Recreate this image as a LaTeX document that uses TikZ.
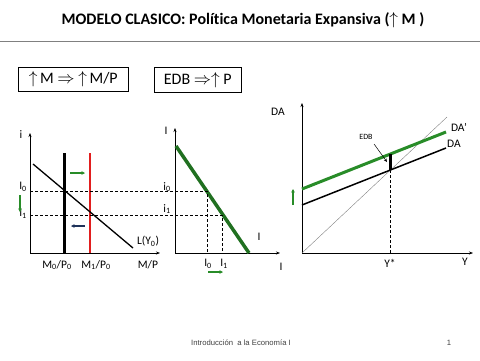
\documentclass[tikz,border=0pt]{standalone}
\usepackage{fontspec}
\setmainfont{Carlito}[Ligatures=NoCommon]
\newfontfamily\piefont{Liberation Sans}
\usetikzlibrary{arrows.meta}

\definecolor{verde}{RGB}{40,140,40}
\definecolor{rojo}{RGB}{225,30,30}
\definecolor{azul}{RGB}{30,50,90}

\begin{document}
\begin{tikzpicture}[x=1pt,y=-1pt,font=\fontsize{11.5}{13}\selectfont,
  eje/.style={-{Stealth[length=4pt,width=3pt]},line width=0.5pt},
  guia/.style={densely dashed,line width=0.4pt},
  flecha/.style={-{Stealth[length=3.5pt,width=3.5pt]},line width=1.2pt},
  caja/.style={draw,line width=0.6pt,anchor=north west,inner sep=0pt}]
\useasboundingbox (0,0) rectangle (480,360);

% titulo
\node (T) at (243,20) {\fontsize{16}{19}\selectfont\bfseries MODELO CLASICO: Política Monetaria Expansiva ($\uparrow$ M )};
\coordinate (L1) at (0,41);
\coordinate (L2) at (480,41);
\draw[gray,line width=0.9pt] (L1)--(L2);
\node[caja,minimum width=110pt,minimum height=24pt] (caja1) at (18,67) {\fontsize{16}{18}\selectfont$\uparrow$\,M $\Rightarrow$ $\uparrow$\,M/P};
\node[caja,minimum width=87pt,minimum height=25pt] (caja2) at (154,67) {\fontsize{16}{18}\selectfont EDB $\Rightarrow$$\uparrow$ P};

% mercado de dinero
\coordinate (O1) at (30,253);
\coordinate (Y1) at (30,133);
\coordinate (X1) at (160,253);
\draw[eje] (O1)--(Y1);
\draw[eje] (O1)--(X1);
\node (i) at (21,135) {i};
\node (MP) at (148,265) {M/P};
\coordinate (A0) at (64,153);
\coordinate (B0) at (64,253);
\coordinate (A1) at (90,153);
\coordinate (B1) at (90,253);
\draw[line width=3pt] (A0)--(B0);
\draw[rojo,line width=2.5pt] (A1)--(B1);
\node (m0) at (57,265) {M\textsubscript{0}/P\textsubscript{0}};
\node (m1) at (96,265) {M\textsubscript{1}/P\textsubscript{0}};
\coordinate (L0a) at (33,164);
\coordinate (L0b) at (133,248);
\draw[line width=1.3pt] (L0a)--(L0b);
\node (LY) at (148,241) {L(Y\textsubscript{0})};
\node (I0) at (23,187) {I\textsubscript{0}};
\node (I1) at (23,214) {I\textsubscript{1}};
\coordinate (g1a) at (70,173);
\coordinate (g1b) at (85,173);
\draw[flecha,verde] (g1a)--(g1b);
\coordinate (b1a) at (85,226);
\coordinate (b1b) at (71,226);
\draw[flecha,azul] (b1a)--(b1b);
\coordinate (d1a) at (20,195);
\coordinate (d1b) at (20,212);
\draw[flecha,verde] (d1a)--(d1b);

% inversion
\coordinate (O2) at (175,253);
\coordinate (Y2) at (175,128);
\coordinate (X2) at (280,253);
\draw[eje] (O2)--(Y2);
\draw[eje] (O2)--(X2);
\node (Iy) at (166,131) {I};
\node (Ix) at (281,267) {I};
\coordinate (Ia) at (176,146);
\coordinate (Ib) at (249,253);
\draw[verde!80!black,line width=3.5pt] (Ia)--(Ib);
\node (Il) at (259,237) {I};
\coordinate (P0) at (207,191);
\coordinate (P1) at (222,215);
\coordinate (Q0) at (207,253);
\coordinate (Q1) at (222,253);
\coordinate (R0) at (30,191);
\coordinate (R1) at (30,215);
\draw[guia] (R0)--(P0)--(Q0);
\draw[guia] (R1)--(P1)--(Q1);
\node (i0) at (167,187) {i\textsubscript{0}};
\node (i1) at (167,209) {i\textsubscript{1}};
\node (Ic0) at (208,264) {I\textsubscript{0}};
\node (Ic1) at (224,264) {I\textsubscript{1}};
\coordinate (g2a) at (208,272);
\coordinate (g2b) at (223,272);
\draw[flecha,verde] (g2a)--(g2b);

% demanda agregada
\coordinate (O3) at (302,253);
\coordinate (Y3) at (302,103);
\coordinate (X3) at (473,253);
\draw[eje] (O3)--(Y3);
\draw[eje] (O3)--(X3);
\node (DAy) at (278,112) {DA};
\node (Yx) at (465,262) {Y};
\coordinate (D45) at (447,117);
\draw[gray,line width=0.4pt] (O3)--(D45);
\coordinate (Da) at (302,205);
\coordinate (Db) at (446,148);
\draw[line width=1.5pt] (Da)--(Db);
\node (DA) at (454,144) {DA};
\coordinate (Dpa) at (302,189);
\coordinate (Dpb) at (446,132);
\draw[verde,line width=3pt] (Dpa)--(Dpb);
\node (DAp) at (459,127) {DA'};
\coordinate (E0) at (390,170);
\coordinate (E1) at (390,154);
\coordinate (E2) at (390,253);
\draw[line width=3pt] (E0)--(E1);
\draw[guia] (E0)--(E2);
\node (Ys) at (390,263) {Y*};
\node[font=\fontsize{8}{9}\selectfont] (EDB) at (366,137) {EDB};
\coordinate (Ep) at (387,162);
\draw[-{Stealth[length=3.5pt,width=3pt]},line width=0.5pt] (EDB.south east)++(-2,1)--(Ep);
\coordinate (g3a) at (293,205);
\coordinate (g3b) at (293,189);
\draw[flecha,verde] (g3a)--(g3b);

% pie
\node[font=\piefont\fontsize{7.7}{9}\selectfont,text=black!75] (pie) at (241,343) {Introducción\ \ a la Economía I};
\node[font=\piefont\fontsize{7.7}{9}\selectfont,text=black!75] (num) at (449,343) {1};
\end{tikzpicture}
\end{document}
